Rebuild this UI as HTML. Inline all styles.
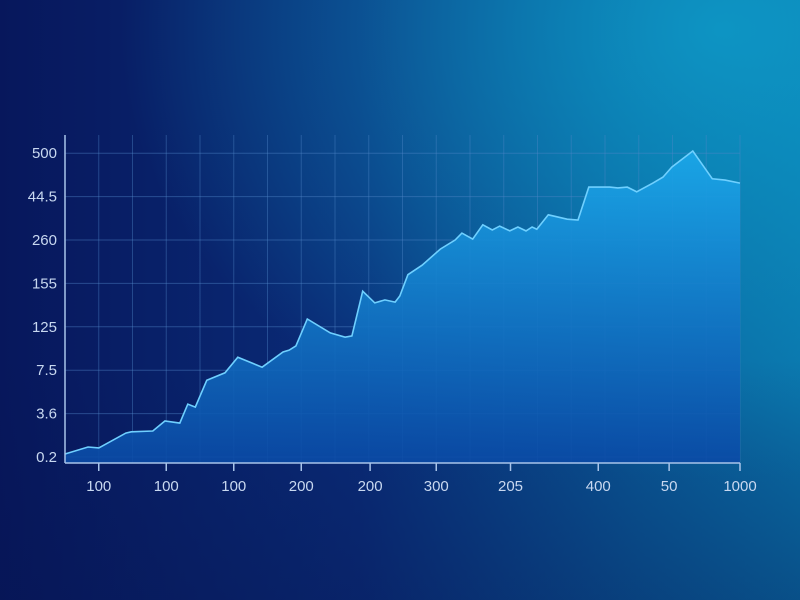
<!DOCTYPE html>
<html><head><meta charset="utf-8"><style>
html,body{margin:0;padding:0;width:800px;height:600px;overflow:hidden;}
body{background:linear-gradient(90deg,#07175c 0%,#0a2c78 45%,#0a5a98 80%,#0a70a8 100%);font-family:"Liberation Sans",sans-serif;}
</style></head><body>
<svg id="chart" width="800" height="600" xmlns="http://www.w3.org/2000/svg">
<defs>
<radialGradient id="glow" cx="0.9" cy="0.05" r="0.75"><stop offset="0" stop-color="#0ea0cc" stop-opacity="0.8"/><stop offset="1" stop-color="#0ea0cc" stop-opacity="0"/></radialGradient>
<linearGradient id="shade" x1="0" y1="0" x2="0" y2="1"><stop offset="0.6" stop-color="#06144e" stop-opacity="0"/><stop offset="1" stop-color="#06144e" stop-opacity="0.35"/></linearGradient>
<linearGradient id="fill" x1="0" y1="0" x2="0" y2="1"><stop offset="0" stop-color="#1ba8ea"/><stop offset="1" stop-color="#0a4aa6"/></linearGradient>
</defs>
<rect width="800" height="600" fill="url(#glow)"/>
<rect width="800" height="600" fill="url(#shade)"/>
<g id="grid"></g><g id="area"></g><g id="axes"></g>
</svg>
<script>
const yTickLabels=["0.2","3.6","7.5","125","155","260","44.5","500"];
const xTickLabels=["100","100","100","200","200","300","205","400","50","1000"];
const xTickPos=[5,15,25,35,45.2,55,66,79,89.5,100];
const xs=[0,3.4,5,9,9.8,13,14.8,17,18.2,19.3,21,23.7,25.6,29.2,32.3,33.2,34.2,35.9,39.3,41.5,42.5,44.1,45.9,47.4,48.9,49.6,50.8,52.9,55.6,57.8,58.8,60.4,61.9,63.3,64.4,65.9,67.1,68.3,69.2,69.9,71.6,74.4,76,77.6,79.3,80.7,81.9,83.3,84.7,87.1,88.6,89.9,93,95.9,97.8,100];
const values=[0.07,0.23,0.21,0.55,0.58,0.6,0.83,0.78,1.22,1.15,1.77,1.94,2.3,2.07,2.42,2.46,2.56,3.18,2.86,2.76,2.79,3.82,3.55,3.62,3.57,3.71,4.2,4.42,4.79,5,5.16,5.02,5.35,5.23,5.32,5.21,5.3,5.21,5.3,5.25,5.58,5.48,5.46,6.22,6.22,6.22,6.2,6.22,6.11,6.31,6.45,6.68,7.05,6.41,6.38,6.31];
const NS="http://www.w3.org/2000/svg";
const X0=65,X1=740,Y0=457,STEP=43.4,BASE=463;
const xScale=v=>X0+(v/100)*(X1-X0);
const yScale=v=>Y0-v*STEP;
function mk(t,a,p){const e=document.createElementNS(NS,t);for(const k in a)e.setAttribute(k,a[k]);p.appendChild(e);return e;}
const grid=document.getElementById('grid'),area=document.getElementById('area'),axes=document.getElementById('axes');
for(let i=0;i<yTickLabels.length;i++){
 const y=yScale(i);
 const l=mk('line',{x1:X0,x2:X1,y1:y,y2:y,stroke:'#4f86c8','stroke-opacity':0.45,'stroke-width':1},grid);
 
 
 const t=mk('text',{x:57,y:y+5,'text-anchor':'end',fill:'#c8d8f0','font-size':15},axes);
 t.textContent=yTickLabels[i];
 
 
}
for(let i=1;i<=20;i++){
 const x=X0+i*(X1-X0)/20;
 const l=mk('line',{x1:x,x2:x,y1:135,y2:BASE,stroke:'#4f86c8','stroke-opacity':0.4,'stroke-width':1},grid);
 
 
}
let d='M'+xScale(xs[0])+','+BASE;
for(let i=0;i<xs.length;i++)d+=' L'+xScale(xs[i]).toFixed(1)+','+yScale(values[i]).toFixed(1);
d+=' L'+xScale(xs[xs.length-1])+','+BASE+' Z';
const ap=mk('path',{d:d,fill:'url(#fill)','fill-opacity':0.9},area);


let ld='';
for(let i=0;i<xs.length;i++)ld+=(i?' L':'M')+xScale(xs[i]).toFixed(1)+','+yScale(values[i]).toFixed(1);
const lp=mk('path',{d:ld,fill:'none',stroke:'#6fd0ff','stroke-width':1.6},area);


const ya=mk('line',{x1:X0,x2:X0,y1:135,y2:BASE,stroke:'#a8c4ea','stroke-width':1.5},axes);


const xa=mk('line',{x1:X0,x2:X1,y1:BASE,y2:BASE,stroke:'#a8c4ea','stroke-width':1.5},axes);


for(let i=0;i<xTickLabels.length;i++){
 const x=xScale(xTickPos[i]);
 const tk=mk('line',{x1:x,x2:x,y1:BASE,y2:BASE+8,stroke:'#a8c4ea','stroke-width':1.5},axes);
 
 
 const t=mk('text',{x:x,y:491,'text-anchor':'middle',fill:'#c8d8f0','font-size':15},axes);
 t.textContent=xTickLabels[i];
 
 
}
</script>
</body></html>
